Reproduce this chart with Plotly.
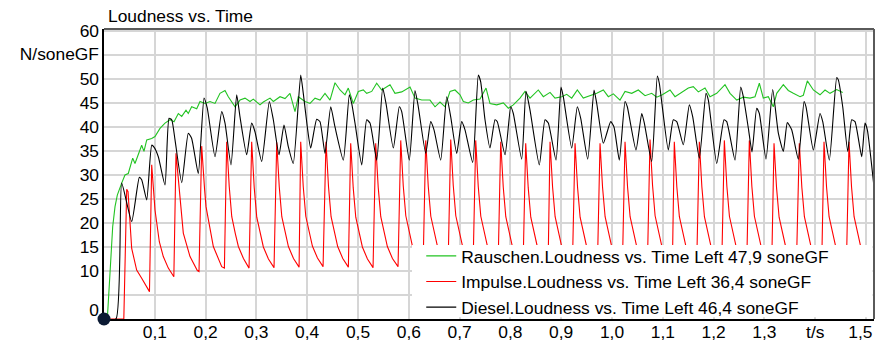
import plotly.graph_objects as go

# ---------------- data ----------------
title_text = "Loudness vs. Time"
y_unit_label = "N/soneGF"
x_unit_label = "t/s"

names = [
    "Rauschen.Loudness vs. Time Left 47,9 soneGF",
    "Impulse.Loudness vs. Time Left 36,4 soneGF",
    "Diesel.Loudness vs. Time Left 46,4 soneGF",
]

# Rauschen (green)
rausch_t = [0.0, 0.0065, 0.0118, 0.0171, 0.0217, 0.0262, 0.0348, 0.0413, 0.0478, 0.0565, 0.0610, 0.0656,
            0.0742, 0.0787, 0.0841, 0.0939, 0.1004, 0.1102, 0.1201, 0.1299, 0.1378, 0.1463, 0.1530, 0.1614,
            0.1659, 0.1726, 0.1825, 0.1890, 0.1988, 0.2087, 0.2185, 0.2283, 0.2382, 0.2447, 0.2514, 0.2579,
            0.2677, 0.2776, 0.2874, 0.2939, 0.3071, 0.3136, 0.3268, 0.3333, 0.3465, 0.3563, 0.3661, 0.3760,
            0.3825, 0.3957, 0.4055, 0.4154, 0.4252, 0.4350, 0.4449, 0.4547, 0.4646, 0.4744, 0.4809, 0.4907,
            0.5006, 0.5104, 0.5171, 0.5270, 0.5368, 0.5466, 0.5630, 0.5728, 0.5860, 0.6024, 0.6122, 0.6254,
            0.6417, 0.6516, 0.6614, 0.6713, 0.6811, 0.6909, 0.7008, 0.7073, 0.7171, 0.7270, 0.7402, 0.7520,
            0.7598, 0.7730, 0.7861, 0.7959, 0.8057, 0.8189, 0.8287, 0.8386, 0.8549, 0.8648, 0.8780, 0.8878,
            0.9010, 0.9108, 0.9207, 0.9317, 0.9435, 0.9567, 0.9699, 0.9829, 0.9927, 1.0026, 1.0157, 1.0256,
            1.0388, 1.0518, 1.0650, 1.0781, 1.0880, 1.0990, 1.1142, 1.1240, 1.1372, 1.1502, 1.1600, 1.1699,
            1.1831, 1.1929, 1.2061, 1.2224, 1.2323, 1.2455, 1.2585, 1.2717, 1.2815, 1.2900, 1.2978, 1.3077,
            1.3175, 1.3242, 1.3372, 1.3470, 1.3569, 1.3701, 1.3766, 1.3845, 1.3963, 1.4094, 1.4193, 1.4291,
            1.4423, 1.4541]
rausch_v = [0.0, 0.0, 9.5, 19.2, 23.4, 25.8, 28.3, 30.0, 30.3, 33.5, 32.4, 33.6,
            36.2, 34.9, 37.3, 37.6, 38.0, 39.7, 40.8, 41.5, 41.1, 42.8, 42.2, 43.5,
            42.8, 44.2, 43.8, 45.3, 44.9, 45.3, 44.9, 47.0, 47.6, 46.3, 45.1, 44.2,
            45.6, 46.0, 45.3, 45.8, 44.6, 45.2, 46.0, 45.3, 46.3, 45.9, 47.0, 43.2,
            46.3, 45.3, 44.9, 46.0, 45.6, 47.0, 45.6, 49.2, 47.7, 46.7, 48.1, 44.9,
            47.4, 47.7, 47.0, 47.4, 49.1, 47.7, 48.8, 47.0, 47.3, 48.3, 46.0, 45.6,
            45.6, 44.2, 45.2, 44.2, 47.4, 47.7, 46.7, 45.3, 45.0, 45.6, 45.8, 48.1,
            44.9, 44.6, 45.0, 43.9, 44.6, 46.0, 47.4, 46.0, 47.7, 46.3, 47.2, 46.0,
            46.3, 46.8, 46.0, 47.7, 46.0, 46.5, 47.0, 47.7, 46.3, 46.9, 45.6, 47.4,
            47.0, 47.7, 46.5, 47.0, 46.2, 46.7, 47.7, 46.3, 47.2, 48.1, 48.4, 47.3,
            48.1, 46.3, 47.0, 48.8, 47.0, 45.6, 46.2, 46.0, 46.3, 49.1, 46.0, 46.3,
            44.2, 47.0, 48.8, 47.6, 47.0, 46.3, 46.6, 49.6, 47.7, 46.7, 47.7, 47.0,
            47.8, 47.2]

# Impulse (red), one row per impulse cycle
impulse_t_rows = [
    [0.0, 0.0390],
    [0.0447, 0.0473, 0.0545, 0.0643, 0.0742, 0.0872, 0.0895],
    [0.0939, 0.1004, 0.1089, 0.1167, 0.1266, 0.1352, 0.1375],
    [0.1417, 0.1496, 0.1561, 0.1693, 0.1837, 0.1870],
    [0.1923, 0.1980, 0.2008, 0.2152, 0.2317, 0.2370],
    [0.2415, 0.2465, 0.2515, 0.2585, 0.2645, 0.2745, 0.2855],
    [0.2907, 0.2957, 0.3007, 0.3077, 0.3137, 0.3237, 0.3347],
    [0.3400, 0.3450, 0.3500, 0.3570, 0.3630, 0.3730, 0.3840],
    [0.3872, 0.3922, 0.3972, 0.4042, 0.4102, 0.4202, 0.4312],
    [0.4370, 0.4420, 0.4470, 0.4540, 0.4600, 0.4700, 0.4810],
    [0.4856, 0.4906, 0.4956, 0.5026, 0.5086, 0.5186, 0.5296],
    [0.5348, 0.5398, 0.5448, 0.5518, 0.5578, 0.5678, 0.5788],
    [0.5841, 0.5891, 0.5941, 0.6011, 0.6071, 0.6171, 0.6281],
    [0.6333, 0.6383, 0.6433, 0.6503, 0.6563, 0.6663, 0.6773],
    [0.6825, 0.6875, 0.6925, 0.6995, 0.7055, 0.7155, 0.7265],
    [0.7317, 0.7367, 0.7417, 0.7487, 0.7547, 0.7647, 0.7757],
    [0.7809, 0.7859, 0.7909, 0.7979, 0.8039, 0.8139, 0.8249],
    [0.8301, 0.8351, 0.8401, 0.8471, 0.8531, 0.8631, 0.8741],
    [0.8780, 0.8830, 0.8880, 0.8950, 0.9010, 0.9110, 0.9220],
    [0.9272, 0.9322, 0.9372, 0.9442, 0.9502, 0.9602, 0.9712],
    [0.9764, 0.9814, 0.9864, 0.9934, 0.9994, 1.0094, 1.0204],
    [1.0256, 1.0306, 1.0356, 1.0426, 1.0486, 1.0586, 1.0696],
    [1.0748, 1.0798, 1.0848, 1.0918, 1.0978, 1.1078, 1.1188],
    [1.1226, 1.1276, 1.1326, 1.1396, 1.1456, 1.1556, 1.1666],
    [1.1719, 1.1769, 1.1819, 1.1889, 1.1949, 1.2049, 1.2159],
    [1.2211, 1.2261, 1.2311, 1.2381, 1.2441, 1.2541, 1.2651],
    [1.2703, 1.2753, 1.2803, 1.2873, 1.2933, 1.3033, 1.3143],
    [1.3189, 1.3239, 1.3289, 1.3359, 1.3419, 1.3519, 1.3629],
    [1.3687, 1.3737, 1.3787, 1.3857, 1.3917, 1.4017, 1.4127],
    [1.4173, 1.4223, 1.4273, 1.4343, 1.4403, 1.4503, 1.4613],
    [1.4665, 1.4715, 1.4765, 1.4835, 1.4895, 1.4946],
]
impulse_v_rows = [
    [0.0, 0.0],
    [27.0, 26.5, 14.7, 10.2, 8.5, 6.0, 5.7],
    [32.1, 22.7, 16.1, 13.0, 10.6, 9.0, 8.8],
    [34.5, 24.8, 17.9, 13.0, 10.1, 9.9],
    [36.0, 27.0, 23.4, 15.1, 10.9, 10.6],
    [36.9, 27.6, 21.3, 17.8, 15.1, 12.6, 10.6],
    [36.9, 27.4, 21.2, 17.7, 15.0, 12.5, 10.7],
    [36.8, 27.5, 21.3, 17.8, 15.1, 12.6, 10.8],
    [36.9, 27.6, 21.4, 17.9, 15.2, 12.7, 10.9],
    [36.9, 27.5, 21.3, 17.8, 15.1, 12.6, 10.8],
    [36.6, 27.3, 21.2, 17.7, 15.0, 12.5, 10.7],
    [36.6, 27.4, 21.3, 17.8, 15.1, 12.6, 10.9],
    [37.2, 27.7, 21.5, 17.9, 15.2, 12.7, 11.0],
    [37.2, 27.6, 21.4, 17.9, 15.2, 12.7, 11.0],
    [37.4, 27.8, 21.5, 18.0, 15.3, 12.8, 11.1],
    [37.2, 27.6, 21.4, 17.9, 15.2, 12.7, 11.0],
    [36.9, 27.5, 21.3, 17.8, 15.1, 12.6, 10.9],
    [36.6, 27.3, 21.2, 17.7, 15.0, 12.5, 10.8],
    [36.9, 27.5, 21.3, 17.8, 15.1, 12.6, 10.9],
    [36.6, 27.4, 21.2, 17.7, 15.0, 12.5, 10.8],
    [36.6, 27.4, 21.3, 17.8, 15.1, 12.6, 10.9],
    [36.9, 27.5, 21.3, 17.8, 15.1, 12.6, 10.9],
    [37.4, 27.8, 21.5, 18.0, 15.3, 12.8, 11.1],
    [36.9, 27.5, 21.3, 17.8, 15.1, 12.6, 10.9],
    [36.9, 27.5, 21.3, 17.8, 15.1, 12.6, 10.9],
    [37.2, 27.6, 21.4, 17.9, 15.2, 12.7, 11.0],
    [37.2, 27.6, 21.4, 17.9, 15.2, 12.7, 11.0],
    [36.6, 27.3, 21.2, 17.7, 15.0, 12.5, 10.8],
    [36.6, 27.4, 21.3, 17.8, 15.1, 12.6, 10.9],
    [36.9, 27.5, 21.3, 17.8, 15.1, 12.6, 10.9],
    [36.9, 27.5, 21.3, 17.8, 15.1, 14.0],
]

# Diesel (black)
diesel_t = [0.0, 0.0236, 0.0348, 0.0545, 0.0695, 0.0742, 0.0841, 0.0939, 0.0984, 0.1069, 0.1201, 0.1280,
            0.1333, 0.1398, 0.1530, 0.1659, 0.1726, 0.1856, 0.1969, 0.2033, 0.2185, 0.2317, 0.2382, 0.2500,
            0.2612, 0.2677, 0.2809, 0.2907, 0.2972, 0.3104, 0.3254, 0.3333, 0.3445, 0.3543, 0.3628, 0.3726,
            0.3872, 0.3923, 0.4002, 0.4069, 0.4187, 0.4252, 0.4350, 0.4463, 0.4547, 0.4711, 0.4829, 0.4876,
            0.4941, 0.5073, 0.5171, 0.5236, 0.5368, 0.5486, 0.5551, 0.5695, 0.5813, 0.5860, 0.6010, 0.6122,
            0.6187, 0.6333, 0.6431, 0.6496, 0.6628, 0.6746, 0.6825, 0.6943, 0.7041, 0.7106, 0.7258, 0.7368,
            0.7415, 0.7500, 0.7598, 0.7697, 0.7742, 0.7894, 0.8006, 0.8057, 0.8222, 0.8307, 0.8386, 0.8569,
            0.8681, 0.8746, 0.8898, 0.8996, 0.9041, 0.9207, 0.9317, 0.9384, 0.9522, 0.9646, 0.9699, 0.9829,
            0.9974, 1.0039, 1.0144, 1.0256, 1.0301, 1.0472, 1.0585, 1.0636, 1.0781, 1.0892, 1.0931, 1.0998,
            1.1108, 1.1207, 1.1274, 1.1404, 1.1522, 1.1589, 1.1719, 1.1850, 1.1896, 1.2061, 1.2205, 1.2258,
            1.2421, 1.2533, 1.2585, 1.2687, 1.2756, 1.2848, 1.2900, 1.3031, 1.3163, 1.3274, 1.3372, 1.3451,
            1.3537, 1.3667, 1.3780, 1.3819, 1.3963, 1.4094, 1.4148, 1.4278, 1.4423, 1.4455, 1.4541, 1.4640,
            1.4718, 1.4783, 1.4915, 1.4980, 1.5026, 1.5177]
diesel_v = [0.0, 0.0, 28.3, 20.3, 29.5, 29.0, 24.8, 36.2, 35.8, 33.8, 27.9, 41.8,
            41.5, 37.3, 28.4, 38.7, 37.6, 30.3, 46.0, 43.9, 33.8, 43.2, 40.8, 32.1,
            46.7, 42.1, 34.2, 40.8, 39.0, 32.8, 45.3, 41.5, 34.2, 40.4, 35.9, 32.4,
            50.8, 47.0, 40.0, 35.6, 41.6, 41.1, 34.5, 44.2, 40.0, 33.1, 46.7, 44.9,
            40.8, 32.1, 41.5, 40.8, 33.1, 48.1, 44.9, 35.6, 44.2, 43.2, 33.1, 47.6,
            44.2, 34.5, 41.1, 39.4, 33.1, 46.3, 42.1, 34.5, 41.1, 39.4, 32.6, 50.8,
            49.4, 41.5, 35.6, 41.5, 41.1, 34.2, 44.2, 42.8, 33.3, 47.4, 43.5, 32.1,
            41.5, 40.8, 33.1, 48.3, 46.3, 35.6, 44.2, 41.8, 33.3, 47.7, 44.9, 36.6,
            41.1, 40.0, 33.1, 45.3, 44.2, 35.2, 42.8, 40.8, 32.8, 50.6, 49.1, 43.5,
            35.2, 41.5, 41.1, 36.3, 44.6, 42.1, 33.5, 47.0, 45.6, 32.4, 41.5, 41.1,
            33.1, 48.3, 46.3, 39.5, 34.8, 43.9, 42.8, 33.3, 47.8, 38.7, 34.9, 40.9,
            39.4, 33.3, 45.3, 44.2, 35.2, 42.8, 41.1, 33.1, 50.3, 49.8, 44.2, 34.9,
            41.5, 41.1, 33.8, 40.8, 39.4, 25.5]

# axis ticks / labels
x_grid = [0.1, 0.2, 0.3, 0.4, 0.5, 0.6, 0.7, 0.8, 0.9, 1.0, 1.1, 1.2, 1.3, 1.4, 1.5]
x_label_pos = [0.1, 0.2, 0.3, 0.4, 0.5, 0.6, 0.7, 0.8, 0.9, 1.0, 1.1, 1.2, 1.3, 1.4, 1.489]
x_label_text = ["0,1", "0,2", "0,3", "0,4", "0,5", "0,6", "0,7", "0,8", "0,9", "1,0", "1,1", "1,2", "1,3",
                x_unit_label, "1,5"]
y_label_pos = [1.9, 10, 15, 20, 25, 30, 35, 40, 45, 50, 55.3, 59.9]
y_label_text = ["0", "10", "15", "20", "25", "30", "35", "40", "45", "50", y_unit_label, "60"]

x_range = [0, 1.5157]
y_range = [0, 60.4]

# ---------------- figure ----------------
impulse_t = [t for row in impulse_t_rows for t in row]
impulse_v = [v for row in impulse_v_rows for v in row]

FONT = "Liberation Sans, Arial, sans-serif"
FS = 17.4
fig = go.Figure()
fig.add_trace(go.Scatter(x=rausch_t, y=rausch_v, mode="lines", name=names[0],
                         line=dict(color="#22c322", width=1.1)))
fig.add_trace(go.Scatter(x=impulse_t, y=impulse_v, mode="lines", name=names[1],
                         line=dict(color="#ff0000", width=1.1)))
fig.add_trace(go.Scatter(x=diesel_t, y=diesel_v, mode="lines", name=names[2],
                         line=dict(color="#000000", width=1.1, shape="spline", smoothing=0.5)))
fig.add_trace(go.Scatter(x=[0], y=[0], mode="markers", showlegend=False, hoverinfo="skip",
                         marker=dict(size=13, color="#0b1a33"), cliponaxis=False))
# carrier for the label axes
fig.add_trace(go.Scatter(x=[0], y=[0], mode="lines", xaxis="x2", yaxis="y2", showlegend=False,
                         hoverinfo="skip", opacity=0))

fig.update_layout(
    width=882, height=346,
    margin=dict(l=104, r=8, t=29, b=27, autoexpand=False),
    paper_bgcolor="white", plot_bgcolor="white",
    font=dict(family=FONT, size=FS, color="black"),
    title=dict(text=title_text, x=108 / 882, xref="container", xanchor="left",
               y=1 - 16 / 346, yref="container", yanchor="middle",
               font=dict(family=FONT, size=FS, color="black")),
    xaxis=dict(range=x_range, tickvals=x_grid, showticklabels=False, showgrid=True,
               gridcolor="#d6d6d6", gridwidth=1.5, zeroline=False, showline=True,
               linecolor="black", linewidth=2, ticks="", layer="below traces", automargin=False),
    yaxis=dict(range=y_range, tick0=0, dtick=5, showticklabels=False, showgrid=True,
               gridcolor="#d6d6d6", gridwidth=1.5, zeroline=False, showline=True,
               linecolor="black", linewidth=2, ticks="", layer="below traces", automargin=False),
    xaxis2=dict(range=x_range, overlaying="x", anchor="y", side="bottom", showgrid=False,
                zeroline=False, showline=False, tickmode="array", tickvals=x_label_pos,
                ticktext=x_label_text, ticks="", ticklabelstandoff=1, automargin=False,
                tickfont=dict(family=FONT, size=FS, color="black")),
    yaxis2=dict(range=y_range, overlaying="y", anchor="x", side="left", showgrid=False,
                zeroline=False, showline=False, tickmode="array", tickvals=y_label_pos,
                ticktext=y_label_text, ticks="", ticklabelstandoff=4, automargin=False,
                tickfont=dict(family=FONT, size=FS, color="black")),
    legend=dict(x=0.412, xanchor="left", y=0.279, yanchor="top", bgcolor="rgba(0,0,0,0)",
                borderwidth=0, font=dict(family=FONT, size=FS, color="black"), tracegroupgap=0),
    showlegend=True,
    shapes=[
        dict(type="rect", xref="paper", yref="paper", x0=0.4, x1=0.998, y0=0.006, y1=0.255,
             fillcolor="white", line=dict(width=0), layer="above"),
        dict(type="line", xref="paper", yref="paper", x0=0, x1=1, y0=1, y1=1,
             line=dict(color="#5a5a5a", width=2), layer="above"),
        dict(type="line", xref="paper", yref="paper", x0=1, x1=1, y0=0, y1=1,
             line=dict(color="#5a5a5a", width=2), layer="above"),
    ],
)

fig.write_html("out.html")
